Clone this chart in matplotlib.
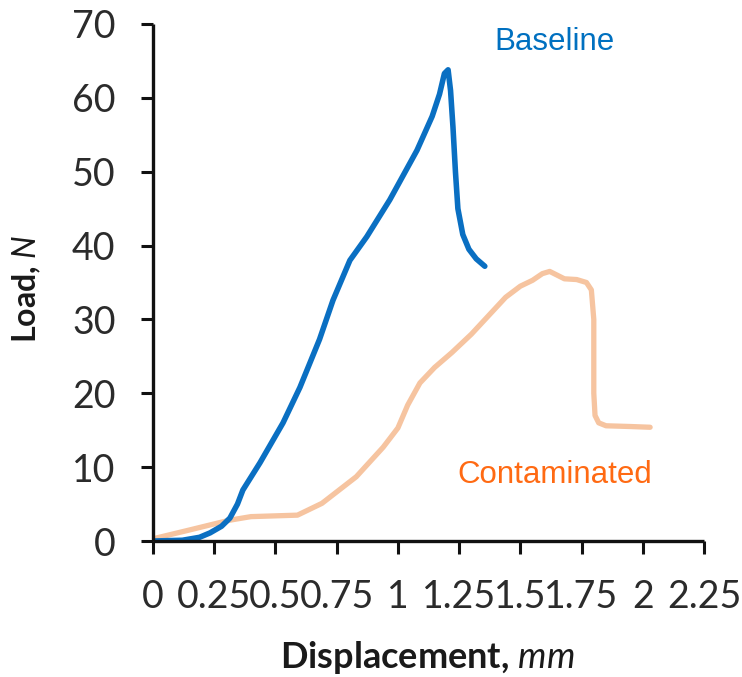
import numpy as np
import matplotlib
matplotlib.use("Agg")
import matplotlib.pyplot as plt

# load vs displacement
baseline_x = [0, 0.12, 0.19, 0.233, 0.28, 0.314, 0.345, 0.367, 0.437, 0.531, 0.6,
              0.68, 0.735, 0.804, 0.873, 0.967, 1.078, 1.14, 1.17, 1.19, 1.205,
              1.215, 1.225, 1.235, 1.245, 1.265, 1.29, 1.32, 1.355]
baseline_y = [0, 0.1, 0.5, 1.1, 2.0, 3.1, 5.0, 6.9, 10.6, 16, 20.8,
              27.3, 32.6, 38, 41.2, 46.2, 52.9, 57.5, 60.5, 63.3, 63.8,
              61, 56, 50, 45, 41.5, 39.5, 38.2, 37.2]

contam_x = [0, 0.15, 0.31, 0.40, 0.59, 0.69, 0.83, 0.94, 1.0, 1.04, 1.09, 1.15,
            1.22, 1.3, 1.37, 1.44, 1.5, 1.55, 1.59, 1.62, 1.65, 1.68, 1.73, 1.77,
            1.79, 1.8, 1.8, 1.805, 1.82, 1.85, 1.95, 2.03]
contam_y = [0.3, 1.5, 2.8, 3.3, 3.5, 5.1, 8.7, 12.7, 15.3, 18.4, 21.4, 23.5,
            25.5, 28, 30.5, 33, 34.5, 35.3, 36.2, 36.5, 36, 35.5, 35.4, 35,
            34, 30, 20, 17, 16, 15.6, 15.5, 15.4]

xticks = [0, 0.25, 0.5, 0.75, 1, 1.25, 1.5, 1.75, 2, 2.25]
xtick_labels = ["0", "0.25", "0.5", "0.75", "1", "1.25", "1.5", "1.75", "2", "2.25"]
yticks = [0, 10, 20, 30, 40, 50, 60, 70]

plt.rcParams["font.family"] = ["Lato", "DejaVu Sans"]
plt.rcParams["mathtext.fontset"] = "custom"
plt.rcParams["mathtext.it"] = "Lato:italic"
plt.rcParams["mathtext.rm"] = "Lato"

fig = plt.figure(figsize=(7.42, 6.77), dpi=100)
ax = fig.add_axes([153 / 742, 136 / 677, 551 / 742, 517 / 677])

ax.plot(contam_x, contam_y, color="#F6C4A0", lw=3.8, solid_capstyle="round",
        solid_joinstyle="round")
ax.plot(baseline_x, baseline_y, color="#0A6FC2", lw=4, solid_capstyle="round",
        solid_joinstyle="round")

ax.set_xlim(0, 2.25)
ax.set_ylim(0, 70)
ax.set_xticks(xticks)
ax.set_xticklabels(xtick_labels)
ax.set_yticks(yticks)

for s in ["top", "right"]:
    ax.spines[s].set_visible(False)
for s in ["left", "bottom"]:
    ax.spines[s].set_linewidth(2.4)
    ax.spines[s].set_color("#111111")
    ax.spines[s].set_capstyle("butt")

ax.tick_params(axis="both", length=9, width=2.2, color="#111111",
               labelsize=27, labelcolor="#2b2b2b", pad=18)

ax.text(1.641, 67.6, "Baseline", color="#0070C0", fontsize=22.5,
        family="Liberation Sans", ha="center", va="center")
ax.text(1.641, 8.9, "Contaminated", color="#FF6A13", fontsize=22.5,
        family="Liberation Sans", ha="center", va="center")

fig.text(0.576, 0.029, "Displacement, $mm$", fontsize=26, fontweight="bold",
         ha="center", va="center", color="#1a1a1a")
fig.text(0.0364, 0.573, "Load, $N$", fontsize=23, fontweight="bold",
         ha="center", va="center", rotation=90, color="#1a1a1a")

fig.savefig("out.png", dpi=100)
